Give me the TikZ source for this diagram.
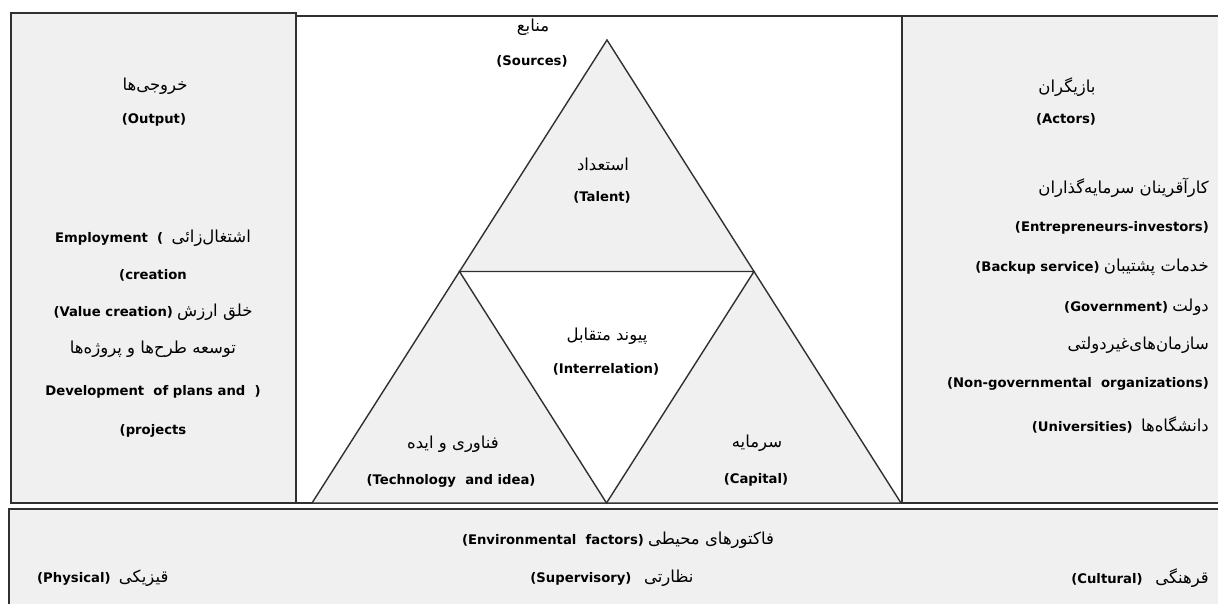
\documentclass[tikz,border=0pt]{standalone}
\usepackage{fontspec}
\usetikzlibrary{calc}
\setmainfont{DejaVu Sans}
\newfontfamily\persianfont[Script=Arabic]{DejaVu Sans}
\TeXXeTstate=1
\definecolor{panelgray}{HTML}{F0F0F0}
\definecolor{edgegray}{HTML}{303030}
\newcommand{\pers}[1]{{\persianfont\fontsize{16.5}{18}\selectfont\beginR #1\endR}}
\newcommand{\eng}[1]{{\bfseries #1}}

\begin{document}
\begin{tikzpicture}[x=1pt,y=-1pt,
                panel/.style={fill=panelgray,draw=edgegray,line width=1.8pt},
                tri line/.style={draw=edgegray,line width=1.4pt},
                label text/.style={inner sep=0pt,font=\fontsize{13.2}{15}\selectfont}]
	\useasboundingbox (0,0) rectangle (1218,603);

	% panels
	\draw[panel] (11,13) rectangle (296,503);
	\draw[panel] (902,16) rectangle (1240,503);
	\draw[panel] (9,509) rectangle (1240,625);
	\draw[draw=edgegray,line width=1.8pt] (296,16) -- (902,16);
	\draw[draw=edgegray,line width=1.8pt] (296,503) -- (902,503);

	% triangle of sources
	\coordinate (apex) at (607,40);
	\coordinate (base left) at (312,503);
	\coordinate (base right) at (901,503);
	\coordinate (mid left) at ($(apex)!0.5!(base left)$);
	\coordinate (mid right) at ($(apex)!0.5!(base right)$);
	\coordinate (mid base) at ($(base left)!0.5!(base right)$);
	\fill[panelgray] (apex) -- (base left) -- (base right) -- cycle;
	\fill[white] (mid left) -- (mid right) -- (mid base) -- cycle;
	\draw[tri line] (apex) -- (base left) -- (base right) -- cycle;
	\draw[tri line] (mid left) -- (mid right) -- (mid base) -- cycle;

	\node[label text] (sources fa) at (533,27) {\pers{منابع}};
	\node[label text] (sources) at (532,61) {\eng{(Sources)}};
	\node[label text] (talent fa) at (603,164) {\pers{استعداد}};
	\node[label text] (talent) at (602,197) {\eng{(Talent)}};
	\node[label text] (inter fa) at (607,336) {\pers{پیوند متقابل}};
	\node[label text] (inter) at (606,369) {\eng{(Interrelation)}};
	\node[label text] (tech fa) at (453,444) {\pers{فناوری و ایده}};
	\node[label text] (tech) at (451,481) {\eng{(Technology \ and idea)}};
	\node[label text] (capital fa) at (757,443) {\pers{سرمایه}};
	\node[label text] (capital) at (756,480) {\eng{(Capital)}};

	% outputs
	\node[label text] (output fa) at (155,86) {\pers{خروجی‌ها}};
	\node[label text] (output) at (154,120) {\eng{(Output)}};
	\node[label text] (out1) at (153,238) {\eng{Employment \ (}\ \ \pers{اشتغال‌زائی}};
	\node[label text] (out2) at (153,275) {\eng{(creation}};
	\node[label text] (out3) at (153,312) {\eng{(Value creation)}\ \pers{خلق ارزش}};
	\node[label text] (out4) at (153,349) {\pers{توسعه طرح‌ها و پروژه‌ها}};
	\node[label text] (out5) at (153,392) {\eng{Development \ of plans and \ )}};
	\node[label text] (out6) at (153,431) {\eng{(projects}};

	% actors
	\node[label text] (actors fa) at (1067,87) {\pers{بازیگران}};
	\node[label text] (actors) at (1066,119) {\eng{(Actors)}};
	\node[label text,anchor=east] (act1) at (1209,188) {\pers{کارآقرینان سرمایه‌گذاران}};
	\node[label text,anchor=east] (act2) at (1209,228) {\eng{(Entrepreneurs-investors)}};
	\node[label text,anchor=east] (act3) at (1209,267) {\eng{(Backup service)}\ \pers{خدمات پشتیبان}};
	\node[label text,anchor=east] (act4) at (1209,307) {\eng{(Government)}\ \pers{دولت}};
	\node[label text,anchor=east] (act5) at (1209,345) {\pers{سازمان‌های‌غیردولتی}};
	\node[label text,anchor=east] (act6) at (1209,384) {\eng{(Non-governmental \ organizations)}};
	\node[label text,anchor=east] (act7) at (1209,425) {\eng{(Universities)}\ \ \pers{دانشگاه‌ها}};

	% environmental factors
	\node[label text] (env) at (618,540) {\eng{(Environmental \ factors)}\ \pers{فاکتورهای محیطی}};
	\node[label text,anchor=west] (physical) at (37,578) {\eng{(Physical)}\ \ \pers{قیزیکی}};
	\node[label text] (supervisory) at (612,578) {\eng{(Supervisory)}\ \ \ \pers{نظارتی}};
	\node[label text,anchor=east] (cultural) at (1209,578) {\eng{(Cultural)}\ \ \ \pers{قرهنگی}};
\end{tikzpicture}
\end{document}
